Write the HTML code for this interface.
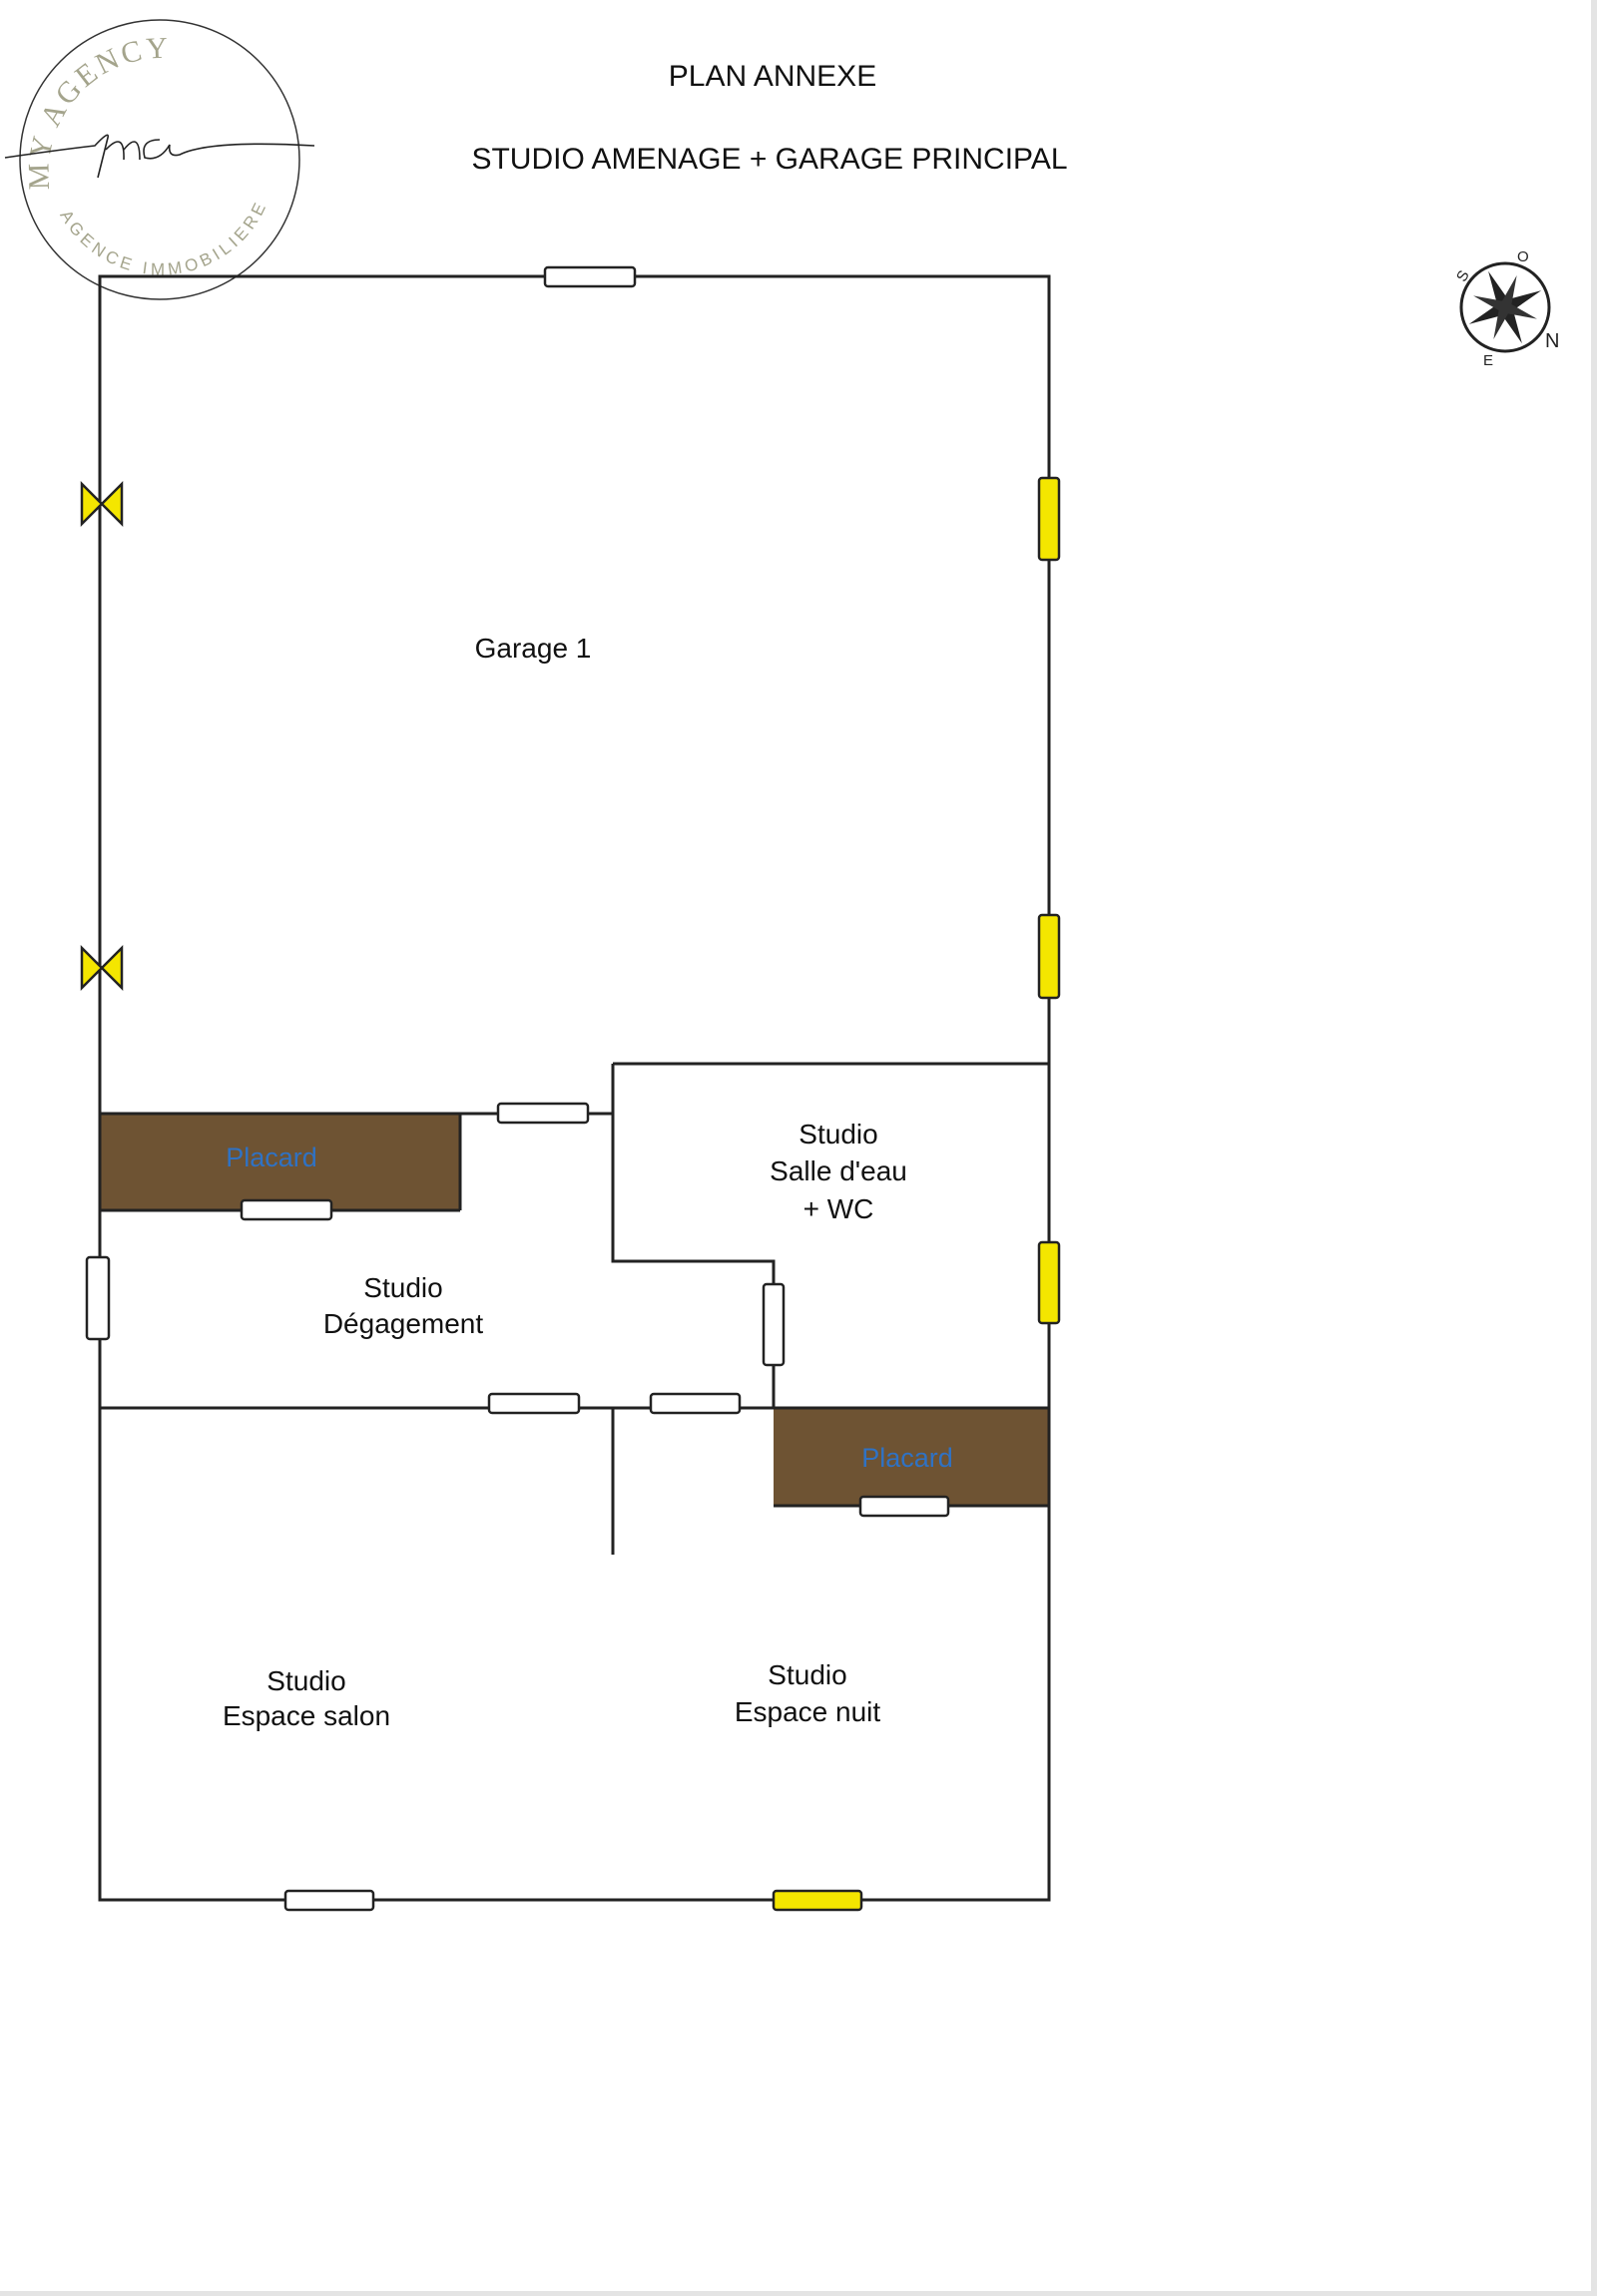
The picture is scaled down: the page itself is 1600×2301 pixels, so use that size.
<!DOCTYPE html>
<html><head><meta charset="utf-8"><style>
html,body{margin:0;padding:0;background:#fff}
body{width:1600px;height:2301px;overflow:hidden;position:relative}
svg{position:absolute;left:0;top:0}
</style></head><body>
<svg width="1600" height="2301" viewBox="0 0 1600 2301" xmlns="http://www.w3.org/2000/svg" font-family="Liberation Sans, DejaVu Sans, sans-serif">
<defs>
<path id="arcTop" d="M50 190 A115 115 0 0 1 260 110"/>
<path id="arcBot" d="M60 215 A115 115 0 0 0 265 210"/>
</defs>
<rect x="1594" y="0" width="6" height="2301" fill="#e4e4e4"/>
<rect x="0" y="2296" width="1600" height="5" fill="#e4e4e4"/>
<!-- logo -->
<circle cx="160" cy="160" r="140" fill="none" stroke="#333" stroke-width="1.5"/>
<text font-family="Liberation Serif, serif" font-size="30" fill="#a4a48c" letter-spacing="3"><textPath href="#arcTop">MY AGENCY</textPath></text>
<text font-size="17" fill="#a4a48c" letter-spacing="4"><textPath href="#arcBot">AGENCE IMMOBILIERE</textPath></text>
<path d="M5 158 Q60 150 95 146 Q110 130 108 138 L98 178 M106 150 Q125 130 124 160 M124 150 Q140 130 140 160 M160 140 Q140 140 145 158 Q160 162 170 145 Q168 158 180 155 Q210 140 315 146" fill="none" stroke="#222" stroke-width="1.6"/>
<!-- compass -->
<g transform="translate(1508,308)">
<circle r="44" fill="none" stroke="#222" stroke-width="3"/>
<path d="M0 -40 L6 -6 L40 0 L6 6 L0 40 L-6 6 L-40 0 L-6 -6Z" fill="#222" transform="rotate(-25)"/>
<path d="M0 -34 L5 -5 L34 0 L5 5 L0 34 L-5 5 L-34 0 L-5 -5Z" fill="#333" transform="rotate(20)"/>
<text x="-45" y="-28" font-size="15" fill="#222" transform="rotate(-60 -40 -30)">S</text><text x="12" y="-46" font-size="15" fill="#222">O</text><text x="40" y="40" font-size="20" fill="#222">N</text><text x="-22" y="58" font-size="15" fill="#222">E</text>
</g>
<!-- titles -->
<text x="774" y="86" text-anchor="middle" font-size="30" fill="#111">PLAN ANNEXE</text>
<text x="771" y="169" text-anchor="middle" font-size="30" fill="#111">STUDIO AMENAGE + GARAGE PRINCIPAL</text>
<!-- placards -->
<rect x="100" y="1116" width="361" height="97" fill="#6e5333"/>
<rect x="775" y="1411" width="276" height="98" fill="#6e5333"/>
<g stroke="#222" stroke-width="3" fill="none">
<rect x="100" y="277" width="951" height="1627"/>
<line x1="614" y1="1066" x2="1051" y2="1066"/>
<polyline points="614,1066 614,1264 775,1264 775,1411"/>
<line x1="100" y1="1116" x2="614" y2="1116"/>
<line x1="461" y1="1116" x2="461" y2="1213"/>
<line x1="100" y1="1213" x2="461" y2="1213"/>
<line x1="100" y1="1411" x2="1051" y2="1411"/>
<line x1="614" y1="1411" x2="614" y2="1558"/>
<line x1="775" y1="1509" x2="1051" y2="1509"/>
</g>
<g stroke="#222" stroke-width="2.5">
<rect x="546" y="268" width="90" height="19" rx="3" fill="#fff"/>
<rect x="1041" y="479" width="20" height="82" rx="3" fill="#f4e600"/>
<rect x="1041" y="917" width="20" height="83" rx="3" fill="#f4e600"/>
<rect x="1041" y="1245" width="20" height="81" rx="3" fill="#f4e600"/>
<rect x="499" y="1106" width="90" height="19" rx="3" fill="#fff"/>
<rect x="242" y="1203" width="90" height="19" rx="3" fill="#fff"/>
<rect x="87" y="1260" width="22" height="82" rx="3" fill="#fff"/>
<rect x="765" y="1287" width="20" height="81" rx="3" fill="#fff"/>
<rect x="490" y="1397" width="90" height="19" rx="3" fill="#fff"/>
<rect x="652" y="1397" width="89" height="19" rx="3" fill="#fff"/>
<rect x="862" y="1500" width="88" height="19" rx="3" fill="#fff"/>
<rect x="286" y="1895" width="88" height="19" rx="3" fill="#fff"/>
<rect x="775" y="1895" width="88" height="19" rx="3" fill="#f4e600"/>
<path d="M82 485 L122 525 L122 485 L82 525Z" fill="#f4e600"/>
<path d="M82 950 L122 990 L122 950 L82 990Z" fill="#f4e600"/>
</g>
<g font-size="28" fill="#111" text-anchor="middle">
<text x="534" y="659">Garage 1</text>
<text x="840" y="1146">Studio</text><text x="840" y="1183">Salle d'eau</text><text x="840" y="1221">+ WC</text>
<text x="404" y="1300">Studio</text><text x="404" y="1336">Dégagement</text>
<text x="307" y="1694">Studio</text><text x="307" y="1729">Espace salon</text>
<text x="809" y="1688">Studio</text><text x="809" y="1725">Espace nuit</text>
</g>
<g font-size="27" fill="#2f72c4" text-anchor="middle">
<text x="272" y="1169">Placard</text>
<text x="909" y="1470">Placard</text>
</g>
</svg>
</body></html>
